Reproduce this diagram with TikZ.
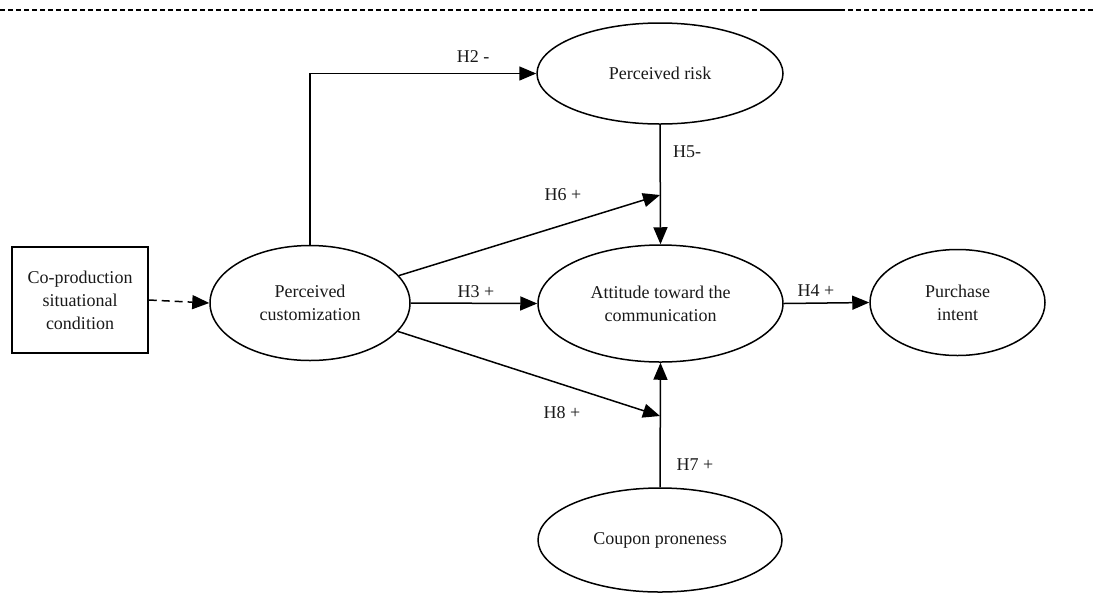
\documentclass[tikz,border=0pt]{standalone}
\usepackage{fontspec}
\setmainfont{Liberation Serif}
\usetikzlibrary{shapes.geometric,arrows.meta}
\begin{document}
\begin{tikzpicture}[x=1pt,y=-1pt,
  font=\fontsize{18}{23}\selectfont,
  every node/.style={text=black!90},
  ell/.style={draw, ellipse, line width=1.5pt, inner sep=0pt, align=center},
  boxnode/.style={draw, rectangle, line width=1.5pt, inner sep=0pt, align=center},
  arr/.style={line width=1.5pt, -{Triangle[length=17pt,width=14pt]}},
  dasharr/.style={arr, dash pattern=on 8pt off 5pt},
  lbl/.style={inner sep=0pt, anchor=center}]
\useasboundingbox (0,0) rectangle (1094,606);
% top rule
\coordinate (r0) at (0,10);
\coordinate (r1) at (765,10);
\coordinate (r2) at (840,10);
\coordinate (r3) at (1094,10);
\draw[line width=1.5pt, dash pattern=on 5pt off 3pt] (r0) -- (r1);
\draw[line width=1.8pt] (r1) -- (r2);
\draw[line width=1.5pt, dash pattern=on 5pt off 3pt] (r2) -- (r3);
% nodes
\node[boxnode, minimum width=136pt, minimum height=106pt] (box) at (80,300) {Co-production\\situational\\condition};
\node[ell, minimum width=200pt, minimum height=115pt] (pc) at (310,303) {Perceived\\customization};
\node[ell, minimum width=246pt, minimum height=101pt] (risk) at (660,73.5) {Perceived risk};
\node[ell, minimum width=245pt, minimum height=117pt] (att) at (660.5,303.5) {Attitude toward the\\communication};
\node[ell, minimum width=175pt, minimum height=106pt] (pi) at (957.5,302.5) {Purchase\\intent};
\node[ell, minimum width=244pt, minimum height=104pt] (cp) at (660,540) {Coupon proneness};
\coordinate (h6end) at (660,195);
\coordinate (h8end) at (660,416);
% connectors
\draw[dasharr] (box.east) -- (pc.west);
\draw[arr] (pc.north) |- (risk.west);
\draw[arr] (risk.south) -- (att.north);
\draw[arr] (pc) -- (h6end);
\draw[arr] (pc.east) -- (att.west);
\draw[arr] (pc) -- (h8end);
\draw[arr] (att.east) -- (pi.west);
\draw[arr] (cp.north) -- (att.south);
% labels
\node[lbl] (l2) at (473,57) {H2 -};
\node[lbl] (l5) at (687,152) {H5-};
\node[lbl] (l6) at (563,195) {H6 +};
\node[lbl] (l3) at (476,292) {H3 +};
\node[lbl] (l4) at (816,291) {H4 +};
\node[lbl] (l8) at (562,413) {H8 +};
\node[lbl] (l7) at (695,465) {H7 +};
\end{tikzpicture}
\end{document}
